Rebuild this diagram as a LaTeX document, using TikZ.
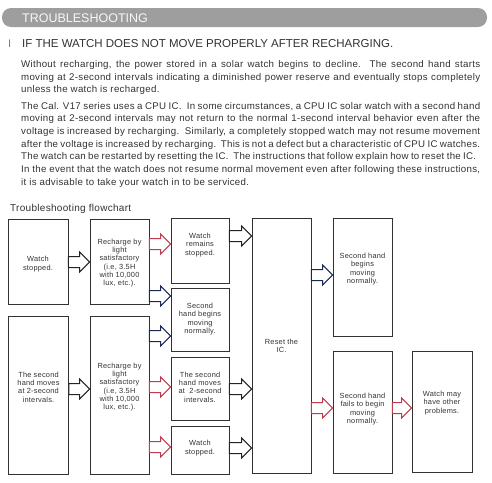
\documentclass[tikz,border=0pt]{standalone}
\usepackage{fontspec}
\setmainfont{Liberation Sans}
\newfontfamily\spacedfont[LetterSpace=3]{Liberation Sans}
\usetikzlibrary{calc, positioning}
\definecolor{headGray}{RGB}{158,158,158}
\definecolor{textGray}{RGB}{50,50,50}
\definecolor{arrowRed}{RGB}{190,60,80}
\definecolor{arrowBlue}{RGB}{25,40,85}
\definecolor{arrowBlack}{RGB}{35,35,35}

\tikzset{
  box/.style={draw=textGray, line width=0.9pt, inner sep=0pt},
  boxtext/.style={font=\spacedfont\fontsize{7.4}{8.3}\selectfont, align=center, text=textGray, inner sep=0pt},
  paraline/.style={anchor=base west, inner sep=0pt, font=\spacedfont\fontsize{9.7}{12}\selectfont, text=textGray},
  blockarrow/.style={line width=1pt, fill=white, line join=miter,
    to path={let \p1=(\tikztostart), \p2=(\tikztotarget) in
      (\x1,\y1+5.5pt) -- (\x2-10pt,\y1+5.5pt) -- (\x2-10pt,\y1+10pt) -- (\x2,\y1)
      -- (\x2-10pt,\y1-10pt) -- (\x2-10pt,\y1-5.5pt) -- (\x1,\y1-5.5pt) -- cycle}}
}

\begin{document}
\begin{tikzpicture}[x=1pt, y=-1pt]
        \useasboundingbox (0,0) rectangle (492,482);

        % Header bar
        \fill[headGray, rounded corners=9pt] (2,8) rectangle (487,27);
        \node[anchor=base west, inner sep=0pt, font=\fontsize{12.5}{12.5}\selectfont, text=white!94!gray] (head) at (22,22) {TROUBLESHOOTING};

        % Title
        \node[anchor=base west, inner sep=0pt, font=\fontsize{11}{11}\selectfont, text=gray] (bullet) at (8,47.5) {I};
        \node[anchor=base west, inner sep=0pt, font=\fontsize{11.5}{11.5}\selectfont, text=textGray] (title) at (22,47.5) {IF THE WATCH DOES NOT MOVE PROPERLY AFTER RECHARGING.};

        % Paragraph 1
        \def\lw{459pt}
        \node[paraline] (p1) at (21,67.5) {\makebox[\lw][s]{Without recharging, the power stored in a solar watch begins to decline.\ \ The second hand starts}};
        \node[paraline] (p2) at (21,80.2) {\makebox[\lw][s]{moving at 2-second intervals indicating a diminished power reserve and eventually stops completely}};
        \node[paraline] (p3) at (21,92.9) {unless the watch is recharged.};

        % Paragraph 2
        \node[paraline] (q1) at (21,109) {\makebox[\lw][s]{The Cal. V17 series uses a CPU IC.\ \ In some circumstances, a CPU IC solar watch with a second hand}};
        \node[paraline] (q2) at (21,121.7) {\makebox[\lw][s]{moving at 2-second intervals may not return to the normal 1-second interval behavior even after the}};
        \node[paraline] (q3) at (21,134.3) {\makebox[\lw][s]{voltage is increased by recharging.\ \ Similarly, a completely stopped watch may not resume movement}};
        \node[paraline] (q4) at (21,147) {\makebox[\lw][s]{after the voltage is increased by recharging.\ \ This is not a defect but a characteristic of CPU IC watches.}};
        \node[paraline] (q5) at (21,159.7) {\makebox[455pt][s]{The watch can be restarted by resetting the IC.\ \ The instructions that follow explain how to reset the IC.}};
        \node[paraline] (q6) at (21,172.3) {\makebox[\lw][s]{In the event that the watch does not resume normal movement even after following these instructions,}};
        \node[paraline] (q7) at (21,185) {it is advisable to take your watch in to be serviced.};

        % Flowchart caption
        \node[anchor=base west, inner sep=0pt, font=\spacedfont\fontsize{10}{10}\selectfont, text=textGray] (cap) at (10,211.5) {Troubleshooting flowchart};

        % Column 1
        \node[box, minimum width=60pt, minimum height=85pt] (A) at (38,261.5) {};
        \node[box, minimum width=60pt, minimum height=158pt] (B) at (38.5,395) {};
        % Column 2
        \node[box, minimum width=59pt, minimum height=85pt] (C) at (119.5,261.5) {};
        \node[box, minimum width=59pt, minimum height=158pt] (D) at (119.5,395) {};
        % Column 3
        \node[box, minimum width=58pt, minimum height=65pt] (E) at (200,250.5) {};
        \node[box, minimum width=58pt, minimum height=63pt] (F) at (200,319.5) {};
        \node[box, minimum width=58pt, minimum height=63pt] (G) at (200,388.5) {};
        \node[box, minimum width=58pt, minimum height=48pt] (H) at (200,450) {};
        % Column 4
        \node[box, minimum width=59pt, minimum height=255pt] (I) at (281.5,345.5) {};
        % Column 5
        \node[box, minimum width=59pt, minimum height=118pt] (J) at (362.5,277) {};
        \node[box, minimum width=59pt, minimum height=122pt] (K) at (362.5,412) {};
        % Column 6
        \node[box, minimum width=60pt, minimum height=121pt] (L) at (442,411.5) {};

        % Box texts
        \node[boxtext] (tA) at (A |- 0,264) {Watch\\stopped.};
        \node[boxtext] (tB) at (B |- 0,387) {The second\\hand moves\\at 2-second\\intervals.};
        \node[boxtext] (tC) at (C |- 0,263) {Recharge by\\light\\satisfactory\\(i.e, 3.5H\\with 10,000\\lux, etc.).};
        \node[boxtext] (tD) at (D |- 0,387) {Recharge by\\light\\satisfactory\\(i.e, 3.5H\\with 10,000\\lux, etc.).};
        \node[boxtext] (tE) at (E |- 0,245) {Watch\\remains\\stopped.};
        \node[boxtext] (tF) at (F |- 0,319) {Second\\hand begins\\moving\\normally.};
        \node[boxtext] (tG) at (G |- 0,387) {The second\\hand moves\\at\ \ 2-second\\intervals.};
        \node[boxtext] (tH) at (H |- 0,448) {Watch\\stopped.};
        \node[boxtext] (tI) at (I |- 0,346) {Reset the\\IC.};
        \node[boxtext] (tJ) at (J |- 0,269) {Second hand\\begins\\moving\\normally.};
        \node[boxtext] (tK) at (K |- 0,409) {Second hand\\fails to begin\\moving\\normally.};
        \node[boxtext] (tL) at (L |- 0,403) {Watch may\\have other\\problems.};

        % Block arrows
        \draw[blockarrow, draw=arrowBlack] (A.east |- 0,262) to (C.west |- 0,262);
        \draw[blockarrow, draw=arrowRed] (C.east |- 0,244) to (E.west |- 0,244);
        \draw[blockarrow, draw=arrowBlue] (C.east |- 0,296) to (F.west |- 0,296);
        \draw[blockarrow, draw=arrowBlack] (B.east |- 0,389) to (D.west |- 0,389);
        \draw[blockarrow, draw=arrowBlue] (D.east |- 0,336) to (F.west |- 0,336);
        \draw[blockarrow, draw=arrowRed] (D.east |- 0,387) to (G.west |- 0,387);
        \draw[blockarrow, draw=arrowRed] (D.east |- 0,447) to (H.west |- 0,447);
        \draw[blockarrow, draw=arrowBlack] (E.east |- 0,236) to (I.west |- 0,236);
        \draw[blockarrow, draw=arrowBlack] (G.east |- 0,389) to (I.west |- 0,389);
        \draw[blockarrow, draw=arrowBlack] (H.east |- 0,448) to (I.west |- 0,448);
        \draw[blockarrow, draw=arrowBlue] (I.east |- 0,275) to (J.west |- 0,275);
        \draw[blockarrow, draw=arrowRed] (I.east |- 0,408) to (K.west |- 0,408);
        \draw[blockarrow, draw=arrowRed] (K.east |- 0,408) to (L.west |- 0,408);
    \end{tikzpicture}
\end{document}
